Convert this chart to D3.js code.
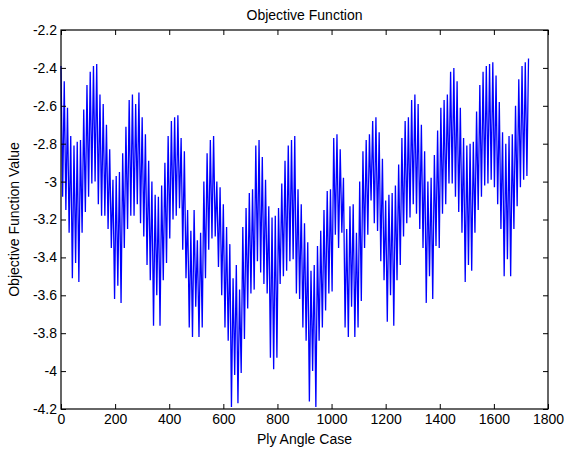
<!DOCTYPE html>
<html>
<head>
<meta charset="utf-8">
<script src="https://cdn.jsdelivr.net/npm/d3@7"></script>
<style>
  html, body { margin: 0; padding: 0; background: #fff; }
  svg { display: block; }
  text { font-family: "Liberation Sans", Arial, Helvetica, sans-serif; fill: #000; }
</style>
</head>
<body>
<svg id="chart" width="567" height="449"></svg>
<script>
// ---- Data ----
const chartTitle = "Objective Function";
const xLabel = "Ply Angle Case";
const yLabel = "Objective Function Value";
const xTicks = [0, 200, 400, 600, 800, 1000, 1200, 1400, 1600, 1800];
const yTicks = [-4.2, -4, -3.8, -3.6, -3.4, -3.2, -3, -2.8, -2.6, -2.4, -2.2];
const caseStep = 6; // spacing (in cases) between successive read-off extremes

// local maxima of the oscillation, in order along the case axis
const peakValues = [
  -2.39, -2.47, -2.61, -2.76, -2.81, -2.79, -2.78, -2.62, -2.49, -2.42, -2.39, -2.38, -2.54, -2.59, -2.70, -2.83, -2.99, -2.97, -2.95, -2.85, -2.71, -2.57, -2.54, -2.59, -2.53,
  -2.66, -2.75, -2.89, -3.00, -3.07, -3.08, -3.02, -2.90, -2.76, -2.68, -2.66, -2.65, -2.77, -2.84, -3.15, -3.26, -3.15, -3.31, -3.27, -3.00, -2.85, -2.78, -2.76, -3.00, -3.03,
  -3.12, -3.24, -3.33, -3.51, -3.44, -3.57, -3.24, -3.14, -3.06, -3.04, -2.81, -2.78, -2.87, -2.99, -3.13, -3.19, -3.18, -3.14, -3.01, -2.89, -2.81, -2.78, -2.76, -3.04, -3.12,
  -3.22, -3.32, -3.47, -3.44, -3.34, -3.26, -3.15, -3.05, -3.04, -2.77, -2.75, -2.83, -2.98, -3.25, -3.13, -3.12, -3.27, -3.00, -2.84, -2.78, -2.75, -2.68, -2.66, -2.74, -2.88,
  -3.10, -3.07, -3.06, -3.02, -2.91, -2.77, -2.68, -2.66, -2.57, -2.54, -2.59, -2.70, -2.84, -3.00, -2.98, -2.86, -2.73, -2.61, -2.57, -2.54, -2.42, -2.40, -2.47, -2.61, -2.77,
  -2.81, -2.80, -2.79, -2.63, -2.49, -2.42, -2.39, -2.38, -2.37, -2.44, -2.58, -2.74, -2.80, -2.76, -2.75, -2.60, -2.46, -2.39, -2.37, -2.35
];
// local minima of the oscillation, in order along the case axis
const troughValues = [
  -3.08, -3.15, -3.27, -3.51, -3.43, -3.53, -3.27, -3.16, -3.08, -3.01, -3.00, -3.12, -3.18, -3.18, -3.25, -3.35, -3.62, -3.55, -3.64, -3.35, -3.25, -3.18, -3.18, -3.12, -3.22,
  -3.29, -3.44, -3.52, -3.76, -3.60, -3.76, -3.52, -3.43, -3.30, -3.20, -3.18, -3.14, -3.36, -3.51, -3.77, -3.82, -3.66, -3.82, -3.77, -3.51, -3.36, -3.30, -3.29, -3.45, -3.60,
  -3.77, -3.84, -4.19, -4.02, -4.17, -4.01, -3.83, -3.67, -3.59, -3.57, -3.42, -3.48, -3.54, -3.59, -3.93, -3.99, -3.93, -3.54, -3.50, -3.47, -3.42, -3.41, -3.59, -3.62, -3.77,
  -3.84, -4.16, -4.00, -4.19, -3.84, -3.77, -3.68, -3.59, -3.58, -3.28, -3.35, -3.27, -3.77, -3.82, -3.66, -3.82, -3.77, -3.63, -3.35, -3.28, -3.10, -3.22, -3.26, -3.42, -3.52,
  -3.74, -3.60, -3.76, -3.52, -3.44, -3.29, -3.22, -3.19, -3.12, -3.17, -3.25, -3.35, -3.64, -3.50, -3.62, -3.34, -3.35, -3.17, -3.12, -3.01, -3.01, -3.08, -3.16, -3.27, -3.53,
  -3.44, -3.47, -3.27, -3.15, -3.08, -3.02, -3.01, -2.99, -3.03, -3.12, -3.25, -3.50, -3.41, -3.50, -3.25, -3.13, -3.03, -2.99, -2.97
];

// interleave extremes into one series
const series = [];
peakValues.forEach((p, i) => {
  series.push(p);
  if (i < troughValues.length) series.push(troughValues[i]);
});
const points = series.map((v, i) => ({ c: i * caseStep, v: v }));

// ---- Layout ----
const svg = d3.select("#chart");
const L = 61, R = 548, T = 30, B = 409;
const x = d3.scaleLinear().domain([0, 1800]).range([L, R]);
const y = d3.scaleLinear().domain([-4.2, -2.2]).range([B, T]);
const fontSize = 14;
const fmt = d => String(d);

// plot line
const line = d3.line().x(d => x(d.c)).y(d => y(d.v));
svg.append("path")
  .datum(points)
  .attr("fill", "none")
  .attr("stroke", "#0000ff")
  .attr("stroke-width", 1.3)
  .attr("stroke-linejoin", "miter")
  .attr("d", line);

// axes (ticks pointing inward, MATLAB style)
function styleAxis(g) {
  g.select(".domain").remove();
  g.selectAll(".tick line").attr("stroke", "#000").attr("stroke-width", 1);
  g.selectAll("text").attr("font-size", fontSize).attr("font-family", '"Liberation Sans", Arial, sans-serif').attr("fill", "#000");
}
svg.append("g").attr("transform", `translate(0,${B})`)
  .call(d3.axisBottom(x).tickValues(xTicks).tickFormat(fmt).tickSizeInner(-5).tickSizeOuter(0).tickPadding(5))
  .call(styleAxis);
svg.append("g").attr("transform", `translate(0,${T})`)
  .call(d3.axisTop(x).tickValues(xTicks).tickFormat("").tickSizeInner(-5).tickSizeOuter(0))
  .call(styleAxis);
svg.append("g").attr("transform", `translate(${L},0)`)
  .call(d3.axisLeft(y).tickValues(yTicks).tickFormat(fmt).tickSizeInner(-5).tickSizeOuter(0).tickPadding(4))
  .call(styleAxis);
svg.append("g").attr("transform", `translate(${R},0)`)
  .call(d3.axisRight(y).tickValues(yTicks).tickFormat("").tickSizeInner(-5).tickSizeOuter(0))
  .call(styleAxis);

// box
svg.append("rect")
  .attr("x", L).attr("y", T).attr("width", R - L).attr("height", B - T)
  .attr("fill", "none").attr("stroke", "#000").attr("stroke-width", 1.2);

// labels
svg.append("text").attr("x", (L + R) / 2).attr("y", 20)
  .attr("text-anchor", "middle").attr("font-size", fontSize).text(chartTitle);
svg.append("text").attr("x", (L + R) / 2).attr("y", 444)
  .attr("text-anchor", "middle").attr("font-size", fontSize).text(xLabel);
svg.append("text")
  .attr("transform", `translate(19,${(T + B) / 2}) rotate(-90)`)
  .attr("text-anchor", "middle").attr("font-size", fontSize).text(yLabel);
</script>
</body>
</html>
